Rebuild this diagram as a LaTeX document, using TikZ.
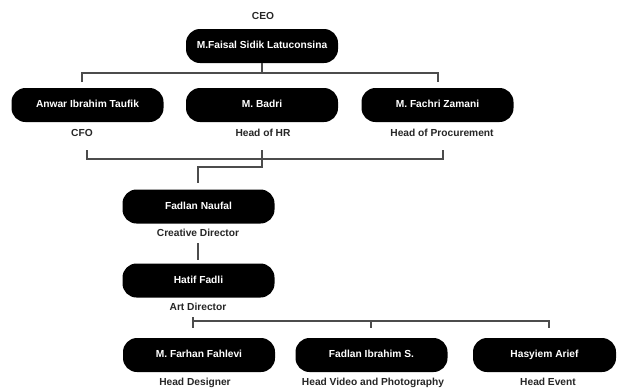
\documentclass[tikz,border=0pt]{standalone}
\usepackage{fontspec}
\setmainfont{Liberation Sans}
\begin{document}
\begin{tikzpicture}[x=1pt,y=-1pt,
 box/.style={fill=black, text=white, rounded corners=14pt, minimum width=152pt, minimum height=34pt, inner sep=0pt, text height=7.5pt, text depth=2pt, font=\bfseries\fontsize{10.2}{12}\selectfont},
 lbl/.style={font=\bfseries\fontsize{10.2}{12}\selectfont, inner sep=0pt, text height=7.5pt, text depth=2pt, text=black!85},
 conn/.style={draw=black!70, line width=1.2pt}]
\useasboundingbox[fill=white] (0,0) rectangle (617,389);
% nodes
\node[lbl] (ceot) at (263,17) {CEO};
\node[box] (ceo) at (262,46) {M.Faisal Sidik Latuconsina};
\node[box] (anwar) at (87.5,105) {Anwar Ibrahim Taufik};
\node[box] (badri) at (262,105) {M. Badri};
\node[box] (fachri) at (437.5,105) {M. Fachri Zamani};
\node[lbl] (cfo) at (82,134) {CFO};
\node[lbl] (hr) at (263,134) {Head of HR};
\node[lbl] (proc) at (442,134) {Head of Procurement};
\node[box] (fadlan) at (198.5,206.5) {Fadlan Naufal};
\node[lbl] (cd) at (198,234) {Creative Director};
\node[box] (hatif) at (198.5,280.5) {Hatif Fadli};
\node[lbl] (ad) at (198,308) {Art Director};
\node[box] (farhan) at (199,355) {M. Farhan Fahlevi};
\node[box] (fadlani) at (371.5,355) {Fadlan Ibrahim S.};
\node[box, minimum width=143pt] (hasyiem) at (544.5,355) {Hasyiem Arief};
\node[lbl] (hd) at (195,383) {Head Designer};
\node[lbl] (hv) at (373,383) {Head Video and Photography};
\node[lbl] (he) at (548,383) {Head Event};
% coordinates
\coordinate (a1) at (262,73);
\coordinate (a2) at (82,73);
\coordinate (a3) at (82,82);
\coordinate (a4) at (438,73);
\coordinate (a5) at (438,82);
\coordinate (c1) at (87,150);
\coordinate (c2) at (87,159);
\coordinate (c3) at (443,159);
\coordinate (c4) at (443,150);
\coordinate (c5) at (262,150);
\coordinate (c6) at (262,167);
\coordinate (c7) at (198,167);
\coordinate (c8) at (198,183);
\coordinate (d1) at (198,243);
\coordinate (d2) at (198,260);
\coordinate (e1) at (193,317);
\coordinate (e2) at (193,328);
\coordinate (e3) at (193,321);
\coordinate (e4) at (549,321);
\coordinate (e5) at (549,328);
\coordinate (e6) at (371,321);
\coordinate (e7) at (371,328);
% connectors
\draw[conn] (ceo.south) -- (a1);
\draw[conn] (a3) -- (a2) -- (a4) -- (a5);
\draw[conn] (c1) -- (c2) -- (c3) -- (c4);
\draw[conn] (c5) -- (c6) -- (c7) -- (c8);
\draw[conn] (d1) -- (d2);
\draw[conn] (e1) -- (e2);
\draw[conn] (e3) -- (e4) -- (e5);
\draw[conn] (e6) -- (e7);
\end{tikzpicture}
\end{document}
